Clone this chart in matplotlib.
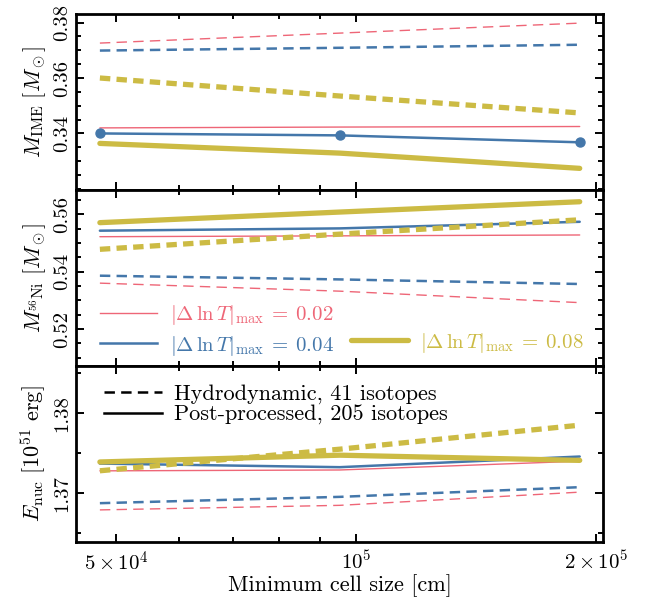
import matplotlib
matplotlib.use("Agg")
import matplotlib.pyplot as plt
from matplotlib.lines import Line2D
from matplotlib.ticker import FixedLocator, FixedFormatter

plt.rcParams['font.family'] = 'serif'
plt.rcParams['font.serif'] = ['cmr10', 'DejaVu Serif']
plt.rcParams['mathtext.fontset'] = 'cm'
plt.rcParams['axes.formatter.use_mathtext'] = True
plt.rcParams['lines.scale_dashes'] = False

# ---- data ----
cell_size = [4.7684e4, 9.5367e4, 1.90735e5]
dlnT = ['0.02', '0.04', '0.08']
colors = ['#EE6677', '#4477AA', '#CCBB44']
lws = [1.0, 1.8, 3.8]

mime_hydro = {'0.02': [0.3726, 0.3762, 0.3798],
              '0.04': [0.3699, 0.3709, 0.3720],
              '0.08': [0.3600, 0.3535, 0.3474]}
mime_post = {'0.02': [0.3420, 0.3423, 0.3425],
             '0.04': [0.3400, 0.3393, 0.3368],
             '0.08': [0.3364, 0.3329, 0.3274]}

mni_hydro = {'0.02': [0.5360, 0.5332, 0.5292],
             '0.04': [0.5386, 0.5373, 0.5357],
             '0.08': [0.5478, 0.5531, 0.5581]}
mni_post = {'0.02': [0.5522, 0.5525, 0.5528],
            '0.04': [0.5543, 0.5551, 0.5574],
            '0.08': [0.5571, 0.5608, 0.5644]}

enuc_hydro = {'0.02': [1.36791, 1.36848, 1.37013],
              '0.04': [1.36875, 1.36954, 1.37075],
              '0.08': [1.3728, 1.3755, 1.3785]}
enuc_post = {'0.02': [1.37279, 1.37290, 1.37400],
             '0.04': [1.37370, 1.37325, 1.37458],
             '0.08': [1.37390, 1.37475, 1.37410]}

xticks = [5e4, 1e5, 2e5]
xticklabels = [r'$5\times10^4$', r'$10^5$', r'$2\times10^5$']
xminor = [6e4, 7e4, 8e4, 9e4]

ylabels = [r'$M_{\rm IME}\ [M_\odot]$', r'$M_{^{56}\rm Ni}\ [M_\odot]$',
           r'$E_{\rm nuc}\ [10^{51}\ {\rm erg}]$']
yticks = [[0.34, 0.36, 0.38], [0.52, 0.54, 0.56], [1.37, 1.38]]
yticklabels = [['0.34', '0.36', '0.38'], ['0.52', '0.54', '0.56'], ['1.37', '1.38']]
yminor = [[0.32, 0.325, 0.33, 0.335, 0.345, 0.35, 0.355, 0.365, 0.37, 0.375],
          [0.51, 0.515, 0.525, 0.53, 0.535, 0.545, 0.55, 0.555, 0.565],
          [1.365, 1.375, 1.385]]
ylims = [(0.3196, 0.3831), (0.5071, 0.5685), (1.3639, 1.3859)]
xlim = (4.45e4, 2.04e5)

fig = plt.figure(figsize=(6.46, 6.0), dpi=100)
axes = fig.subplots(3, 1, sharex=True, gridspec_kw=dict(hspace=0))
fig.subplots_adjust(left=0.1176, right=0.9334, top=0.9767, bottom=0.0967)

datasets = [(mime_hydro, mime_post), (mni_hydro, mni_post), (enuc_hydro, enuc_post)]
dash = (0, (7.5, 4.5))

for i, ax in enumerate(axes):
    hyd, post = datasets[i]
    for k, key in enumerate(dlnT):
        ax.plot(cell_size, hyd[key], color=colors[k], lw=lws[k], ls=dash,
                dash_capstyle='butt')
        mk = dict(marker='o', ms=6.5) if (i == 0 and key == '0.04') else {}
        ax.plot(cell_size, post[key], color=colors[k], lw=lws[k],
                solid_capstyle='round', **mk)
    ax.set_xscale('log')
    ax.set_xlim(*xlim)
    ax.set_ylim(*ylims[i])
    ax.yaxis.set_major_locator(FixedLocator(yticks[i]))
    ax.yaxis.set_major_formatter(FixedFormatter(yticklabels[i]))
    ax.yaxis.set_minor_locator(FixedLocator(yminor[i]))
    ax.xaxis.set_major_locator(FixedLocator(xticks))
    ax.xaxis.set_major_formatter(FixedFormatter(xticklabels))
    ax.xaxis.set_minor_locator(FixedLocator(xminor))
    ax.xaxis.set_minor_formatter(FixedFormatter([''] * len(xminor)))
    ax.tick_params(which='both', direction='in', top=True, right=True, width=1.4)
    ax.tick_params(which='major', length=5.5, labelsize=15)
    ax.tick_params(axis='x', which='major', pad=6)
    ax.tick_params(which='minor', length=3.5)
    for lab in ax.get_yticklabels():
        lab.set_rotation(90)
        lab.set_va('center')
    for sp in ax.spines.values():
        sp.set_linewidth(2.0)
    ax.set_ylabel(ylabels[i], fontsize=16, labelpad=4)

axes[2].set_xlabel('Minimum cell size [cm]', fontsize=16, labelpad=0)

# legend in middle panel
h = [Line2D([], [], color=colors[0], lw=lws[0]),
     Line2D([], [], color=colors[1], lw=lws[1]),
     Line2D([], [], color='none', lw=0),
     Line2D([], [], color=colors[2], lw=lws[2], solid_capstyle='round')]
labs = [r'$|\Delta\,\ln T|_{\rm max}\:=\:0.02$', r'$|\Delta\,\ln T|_{\rm max}\:=\:0.04$', '',
        r'$|\Delta\,\ln T|_{\rm max}\:=\:0.08$']
leg = axes[1].legend(h, labs, ncol=2, loc='lower left', frameon=False, fontsize=15,
                     handlelength=2.75, handletextpad=0.6, columnspacing=0.8,
                     labelspacing=0.3, borderaxespad=0.0, bbox_to_anchor=(0.03, 0.0))
for t, c in zip(leg.get_texts(), [colors[0], colors[1], 'none', colors[2]]):
    t.set_color(c)

h2 = [Line2D([], [], color='k', lw=1.8, ls=dash), Line2D([], [], color='k', lw=1.8)]
axes[2].legend(h2, ['Hydrodynamic, 41 isotopes', 'Post-processed, 205 isotopes'],
               loc='upper left', frameon=False, fontsize=16, handlelength=2.6,
               handletextpad=0.55, labelspacing=0.05, borderaxespad=0.4,
               bbox_to_anchor=(0.02, 1.0))

fig.savefig('out.png', dpi=100)
